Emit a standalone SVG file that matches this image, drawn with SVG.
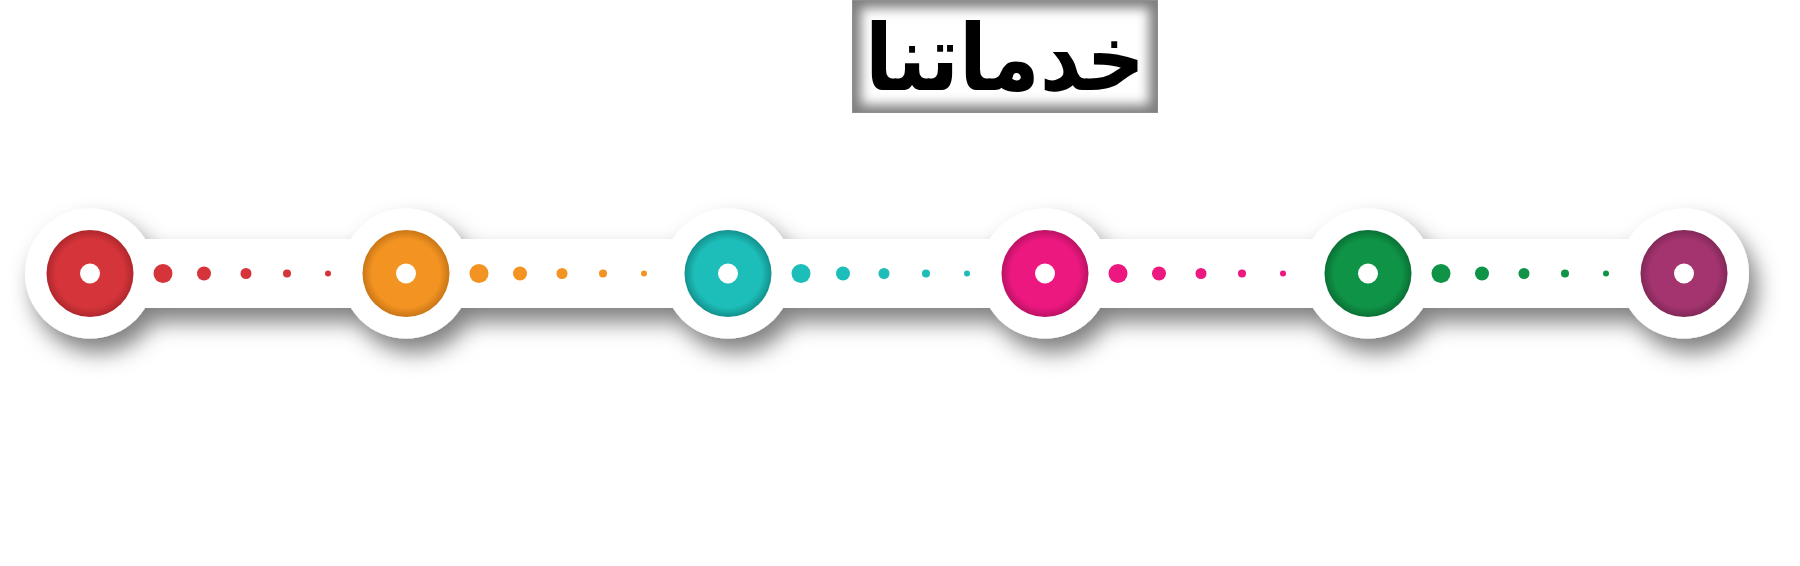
<svg xmlns="http://www.w3.org/2000/svg" width="1800" height="566" viewBox="0 0 1800 566">
  <defs>
    <filter id="shadow" x="-5%" y="-60%" width="110%" height="220%">
      <feDropShadow dx="8" dy="14" stdDeviation="11" flood-color="#000" flood-opacity="0.5"/>
    </filter>
    <filter id="vign" x="-10%" y="-10%" width="120%" height="120%">
      <feGaussianBlur stdDeviation="6"/>
    </filter>
    <clipPath id="boxclip"><rect x="852" y="0" width="306" height="113"/></clipPath>
    <radialGradient id="gRed"><stop offset="0.78" stop-color="#D5353A"/><stop offset="1" stop-color="#AF272D"/></radialGradient>
    <radialGradient id="gOrange"><stop offset="0.78" stop-color="#F39422"/><stop offset="1" stop-color="#C97616"/></radialGradient>
    <radialGradient id="gTeal"><stop offset="0.78" stop-color="#1DBDB9"/><stop offset="1" stop-color="#13918D"/></radialGradient>
    <radialGradient id="gPink"><stop offset="0.78" stop-color="#EC1880"/><stop offset="1" stop-color="#BB1264"/></radialGradient>
    <radialGradient id="gGreen"><stop offset="0.78" stop-color="#0F9346"/><stop offset="1" stop-color="#0A7035"/></radialGradient>
    <radialGradient id="gPurple"><stop offset="0.78" stop-color="#A4346F"/><stop offset="1" stop-color="#822858"/></radialGradient>
  </defs>
  <style>
    .white { fill: #FFFFFF; }
    .hole { fill: #FFFFFF; }
    .title { font-family: "DejaVu Sans", sans-serif; font-weight: bold; fill: #000000; }
    .red { fill: #D5353A; } .orange { fill: #F39422; } .teal { fill: #1DBDB9; }
    .pink { fill: #EC1880; } .green { fill: #0F9346; } .purple { fill: #A4346F; }
  </style>
  <rect width="1800" height="566" fill="#FFFFFF"/>

  <g id="title">
    <g clip-path="url(#boxclip)">
      <rect x="852" y="0" width="306" height="113" fill="#7E7E7E"/>
      <rect x="861" y="8" width="288" height="97" fill="#FFFFFF" filter="url(#vign)"/>
    </g>
    <rect x="852.5" y="0.5" width="305" height="112" fill="none" stroke="#8E8E8E" stroke-width="1"/>
    <text class="title" x="1005" y="90" font-size="92" text-anchor="middle" direction="rtl" textLength="280" lengthAdjust="spacingAndGlyphs">خدماتنا</text>
  </g>

  <g id="track" filter="url(#shadow)">
    <rect class="white" x="90" y="239" width="1594" height="69"/>
    <circle class="white" cx="90" cy="273.5" r="65"/>
    <circle class="white" cx="406" cy="273.5" r="65"/>
    <circle class="white" cx="728" cy="273.5" r="65"/>
    <circle class="white" cx="1045" cy="273.5" r="65"/>
    <circle class="white" cx="1368" cy="273.5" r="65"/>
    <circle class="white" cx="1684" cy="273.5" r="65"/>
  </g>

  <g id="connectors">
    <g class="red">
      <circle cx="163" cy="273.5" r="9.5"/><circle cx="204" cy="273.5" r="7"/><circle cx="246" cy="273.5" r="5.5"/><circle cx="287" cy="273.5" r="4"/><circle cx="328" cy="273.5" r="3"/>
    </g>
    <g class="orange">
      <circle cx="479" cy="273.5" r="9.5"/><circle cx="520" cy="273.5" r="7"/><circle cx="562" cy="273.5" r="5.5"/><circle cx="603" cy="273.5" r="4"/><circle cx="644" cy="273.5" r="3"/>
    </g>
    <g class="teal">
      <circle cx="801" cy="273.5" r="9.5"/><circle cx="843" cy="273.5" r="7"/><circle cx="884" cy="273.5" r="5.5"/><circle cx="926" cy="273.5" r="4"/><circle cx="967" cy="273.5" r="3"/>
    </g>
    <g class="pink">
      <circle cx="1118" cy="273.5" r="9.5"/><circle cx="1159" cy="273.5" r="7"/><circle cx="1201" cy="273.5" r="5.5"/><circle cx="1242" cy="273.5" r="4"/><circle cx="1283" cy="273.5" r="3"/>
    </g>
    <g class="green">
      <circle cx="1441" cy="273.5" r="9.5"/><circle cx="1482" cy="273.5" r="7"/><circle cx="1524" cy="273.5" r="5.5"/><circle cx="1565" cy="273.5" r="4"/><circle cx="1606" cy="273.5" r="3"/>
    </g>
  </g>

  <g id="node1"><circle cx="90" cy="273.5" r="43.5" fill="url(#gRed)"/><circle class="hole" cx="90" cy="273.5" r="10"/></g>
  <g id="node2"><circle cx="406" cy="273.5" r="43.5" fill="url(#gOrange)"/><circle class="hole" cx="406" cy="273.5" r="10"/></g>
  <g id="node3"><circle cx="728" cy="273.5" r="43.5" fill="url(#gTeal)"/><circle class="hole" cx="728" cy="273.5" r="10"/></g>
  <g id="node4"><circle cx="1045" cy="273.5" r="43.5" fill="url(#gPink)"/><circle class="hole" cx="1045" cy="273.5" r="10"/></g>
  <g id="node5"><circle cx="1368" cy="273.5" r="43.5" fill="url(#gGreen)"/><circle class="hole" cx="1368" cy="273.5" r="10"/></g>
  <g id="node6"><circle cx="1684" cy="273.5" r="43.5" fill="url(#gPurple)"/><circle class="hole" cx="1684" cy="273.5" r="10"/></g>
</svg>
